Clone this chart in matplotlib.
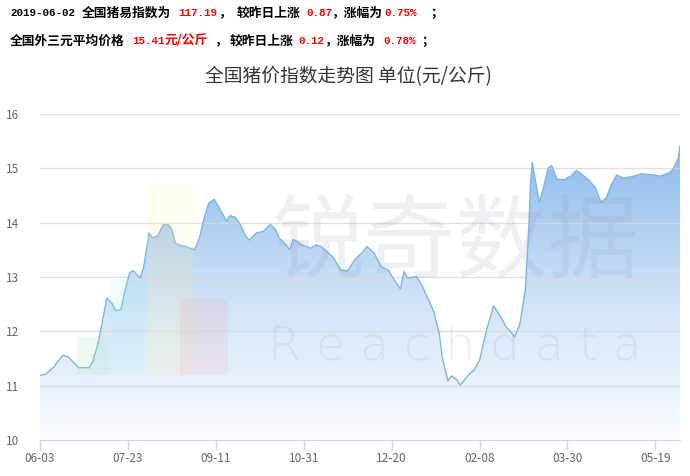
import numpy as np
import pandas as pd
import matplotlib
matplotlib.use("Agg")
import matplotlib.pyplot as plt
from matplotlib.patches import Rectangle
from matplotlib.colors import LinearSegmentedColormap

plt.rcParams['font.family'] = ['Noto Sans CJK SC', 'DejaVu Sans']

# days after 2018-06-03 and the national price (yuan/kg)
days = [0, 3, 6, 8, 10, 13, 16, 19, 22, 25, 28, 30, 33, 36, 38, 41, 43, 46, 48,
        51, 53, 55, 57, 59, 62, 64, 67, 70, 73, 75, 77, 80, 83, 88, 91, 93, 96,
        99, 102, 106, 108, 111, 114, 117, 119, 123, 127, 131, 134, 136, 140, 142,
        144, 146, 149, 154, 157, 160, 164, 167, 171, 175, 179, 183, 186, 190, 194,
        198, 202, 205, 207, 209, 214, 217, 221, 224, 227, 229, 232, 234, 237, 239,
        242, 245, 247, 250, 254, 258, 262, 265, 270, 273, 276, 278, 279, 280, 282,
        284, 287, 289, 291, 294, 298, 302, 305, 307, 312, 316, 319, 322, 325, 328,
        332, 337, 342, 348, 353, 358, 360, 363, 364]
price = [11.19, 11.21, 11.29, 11.35, 11.44, 11.56, 11.53, 11.43, 11.33, 11.33,
         11.33, 11.44, 11.78, 12.27, 12.61, 12.51, 12.38, 12.40, 12.70, 13.08,
         13.12, 13.05, 12.98, 13.19, 13.81, 13.72, 13.76, 13.96, 13.96, 13.87,
         13.62, 13.58, 13.56, 13.50, 13.75, 14.05, 14.36, 14.43, 14.27, 14.03,
         14.13, 14.10, 13.96, 13.75, 13.68, 13.81, 13.84, 13.97, 13.87, 13.72,
         13.59, 13.50, 13.69, 13.66, 13.59, 13.53, 13.59, 13.56, 13.44, 13.35,
         13.13, 13.11, 13.32, 13.44, 13.56, 13.44, 13.19, 13.13, 12.92, 12.78,
         13.10, 12.98, 13.01, 12.86, 12.58, 12.36, 11.97, 11.48, 11.09, 11.18,
         11.11, 11.01, 11.13, 11.24, 11.29, 11.47, 12.03, 12.47, 12.27, 12.09,
         11.90, 12.15, 12.76, 13.87, 14.73, 15.11, 14.73, 14.37, 14.73, 15.01,
         15.05, 14.80, 14.79, 14.86, 14.96, 14.92, 14.79, 14.64, 14.37, 14.45,
         14.70, 14.88, 14.82, 14.85, 14.90, 14.88, 14.86, 14.92, 14.98, 15.19,
         15.41]
tick_days = [0, 50, 100, 150, 200, 250, 300, 350]
tick_labels = ['06-03', '07-23', '09-11', '10-31', '12-20', '02-08', '03-30', '05-19']
y_ticks = [10, 11, 12, 13, 14, 15, 16]

x = np.array(days, dtype=float)
y = np.array(price)

fig = plt.figure(figsize=(6.9, 4.76), dpi=100)
ax = fig.add_axes([40 / 690, 36 / 476, 640 / 690, 326 / 476])
ax.set_xlim(0, 364)
ax.set_ylim(10, 16)

# gradient area under the line
fill = ax.fill_between(x, y, 10, color='none', lw=0)
cmap = LinearSegmentedColormap.from_list(
    'g', [(0.98, 0.99, 1.0), (0.80, 0.88, 0.97), (0.53, 0.72, 0.92)])
grad = np.linspace(0, 1, 256).reshape(-1, 1)
img = ax.imshow(grad, cmap=cmap, aspect='auto', origin='lower',
                extent=[0, 364, 10, y.max()], zorder=1, alpha=0.95)
img.set_clip_path(fill.get_paths()[0], transform=ax.transData)
for v in y_ticks[1:]:
    ax.axhline(v, color='#d9d9d9', lw=1, zorder=2, alpha=0.8)
ax.plot(x, y, color='#7cb5ec', lw=1.0, zorder=3)

# watermark logo bars and text
logo = [(77, 33, 337, '#9be3a0'), (110, 35, 280, '#9ef0f0'),
        (147, 46, 185, '#fff39a'), (180, 48, 298, '#f4a0a8')]
for px, w, top, c in logo:
    fig.patches.append(Rectangle((px / 690, 1 - 375 / 476), w / 690, (375 - top) / 476,
                                 transform=fig.transFigure, color=c, alpha=0.16,
                                 lw=0, zorder=4))
fig.text(456 / 690, 1 - 245 / 476, '锐奇数据', fontsize=66, color='#8a94aa',
         alpha=0.15, ha='center', va='center', zorder=5)
fig.text(455 / 690, 1 - 346 / 476, 'R e a c h d a t a', fontsize=34, color='#8a94aa',
         alpha=0.16, ha='center', va='center', family='DejaVu Sans',
         fontweight='light', zorder=5)

# axes styling
ax.set_yticks(y_ticks)
for s in ['top', 'right', 'left']:
    ax.spines[s].set_visible(False)
ax.spines['bottom'].set_color('#ccd6eb')
ax.spines['bottom'].set_zorder(4)
ax.set_xticks(tick_days)
ax.set_xticklabels(tick_labels)
ax.tick_params(axis='x', colors='#ccd6eb', length=7, width=1, labelcolor='#666666',
               labelsize=8.5, pad=2)
ax.tick_params(axis='y', length=0, labelcolor='#666666', labelsize=8.5, pad=15)

fig.text(348 / 690, 1 - 77 / 476, '全国猪价指数走势图 单位(元/公斤)', fontsize=13.5,
         color='#333333', ha='center', va='center')

# header lines
mono = ['Liberation Mono', 'Noto Sans CJK SC']
line1 = [(10, '2019-06-02', 'k', mono), (82, '全国猪易指数为', 'k', None),
         (178, '117.19', 'r', mono), (219, '，', 'k', None),
         (237, '较昨日上涨', 'k', None), (306, '0.87', 'r', mono),
         (332, '，涨幅为', 'k', None), (384, '0.75%', 'r', mono), (430, '；', 'k', None)]
line2 = [(10, '全国外三元平均价格', 'k', None), (132, '15.41', 'r', mono),
         (165, '元/公斤', 'r', None), (215, '，', 'k', None),
         (230, '较昨日上涨', 'k', None), (298, '0.12', 'r', mono),
         (325, '，涨幅为', 'k', None), (383, '0.78%', 'r', mono), (421, '；', 'k', None)]
for yy, line in [(13, line1), (41, line2)]:
    for px, s, c, fam in line:
        col = '#000000' if c == 'k' else '#ff0000'
        kw = dict(fontsize=7.8, family=fam) if fam else dict(fontsize=9.2)
        fig.text(px / 690, 1 - yy / 476, s, color=col, ha='left', va='center',
                 fontweight='bold', **kw)

fig.savefig('out.png', dpi=100)
